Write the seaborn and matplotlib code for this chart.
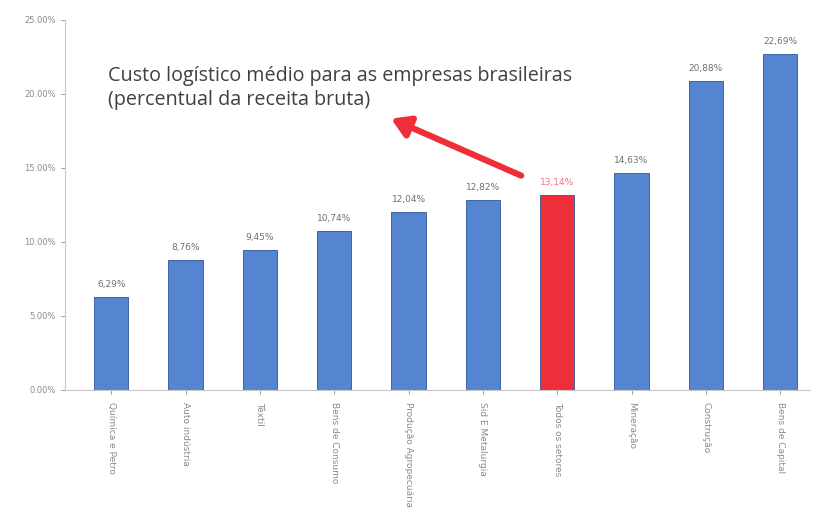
import matplotlib
matplotlib.use("Agg")
import matplotlib.pyplot as plt
import seaborn as sns
import pandas as pd
from matplotlib.ticker import FuncFormatter

categories = ["Química e Petro", "Auto indústria", "Têxtil", "Bens de Consumo",
              "Produção Agropecuária", "Sid E Metalurgia", "Todos os setores",
              "Mineração", "Construção", "Bens de Capital"]
values = [6.29, 8.76, 9.45, 10.74, 12.04, 12.82, 13.14, 14.63, 20.88, 22.69]
highlight = "Todos os setores"

blue = "#5585D0"
red = "#EE2E38"

df = pd.DataFrame({"setor": categories, "valor": values})
palette = {c: (red if c == highlight else blue) for c in categories}

sns.set_theme(style="white")
plt.rcParams['font.family'] = ['DejaVu Sans']

fig = plt.figure(figsize=(8.14, 5.22), dpi=100)
ax = fig.add_axes([0.08, 0.253, 0.915, 0.709])

sns.barplot(data=df, x="setor", y="valor", hue="setor", palette=palette,
            legend=False, width=0.46, ax=ax, saturation=1,
            edgecolor="#2F5597", linewidth=0.6)

ax.set_ylim(0, 25)
ax.set_xlim(-0.62, 9.4)
ax.set_yticks([0, 5, 10, 15, 20, 25])
ax.yaxis.set_major_formatter(FuncFormatter(lambda v, p: f"{v:.2f}%"))
ax.tick_params(axis="y", labelsize=6, colors="#8a8a8a", length=3, width=0.6, left=True)
ax.tick_params(axis="x", labelsize=6.5, colors="#8a8a8a", length=3, width=0.6, bottom=True, pad=6)
for lbl in ax.get_xticklabels():
    lbl.set_rotation(270)
    lbl.set_ha("center")
    lbl.set_va("top")
ax.set_xlabel("")
ax.set_ylabel("")
for s in ["top", "right"]:
    ax.spines[s].set_visible(False)
for s in ["left", "bottom"]:
    ax.spines[s].set_color("#c8c8c8")
    ax.spines[s].set_linewidth(0.8)

for i, (c, v) in enumerate(zip(categories, values)):
    ax.text(i, v + 0.55, f"{v:.2f}%".replace(".", ","), ha="center", va="bottom",
            fontsize=6.5, color=("#F07078" if c == highlight else "#707070"))

ax.text(0.058, 0.876, "Custo logístico médio para as empresas brasileiras\n(percentual da receita bruta)",
        transform=ax.transAxes, fontsize=14.2, color="#404040", va="top", ha="left",
        linespacing=1.3, family=["Open Sans", "DejaVu Sans"])

ax.annotate("", xy=(3.73, 18.4), xytext=(5.55, 14.4),
            arrowprops=dict(arrowstyle="-|>,head_length=0.9,head_width=0.55",
                            color=red, lw=4.5))

fig.savefig("out.png", dpi=100)
